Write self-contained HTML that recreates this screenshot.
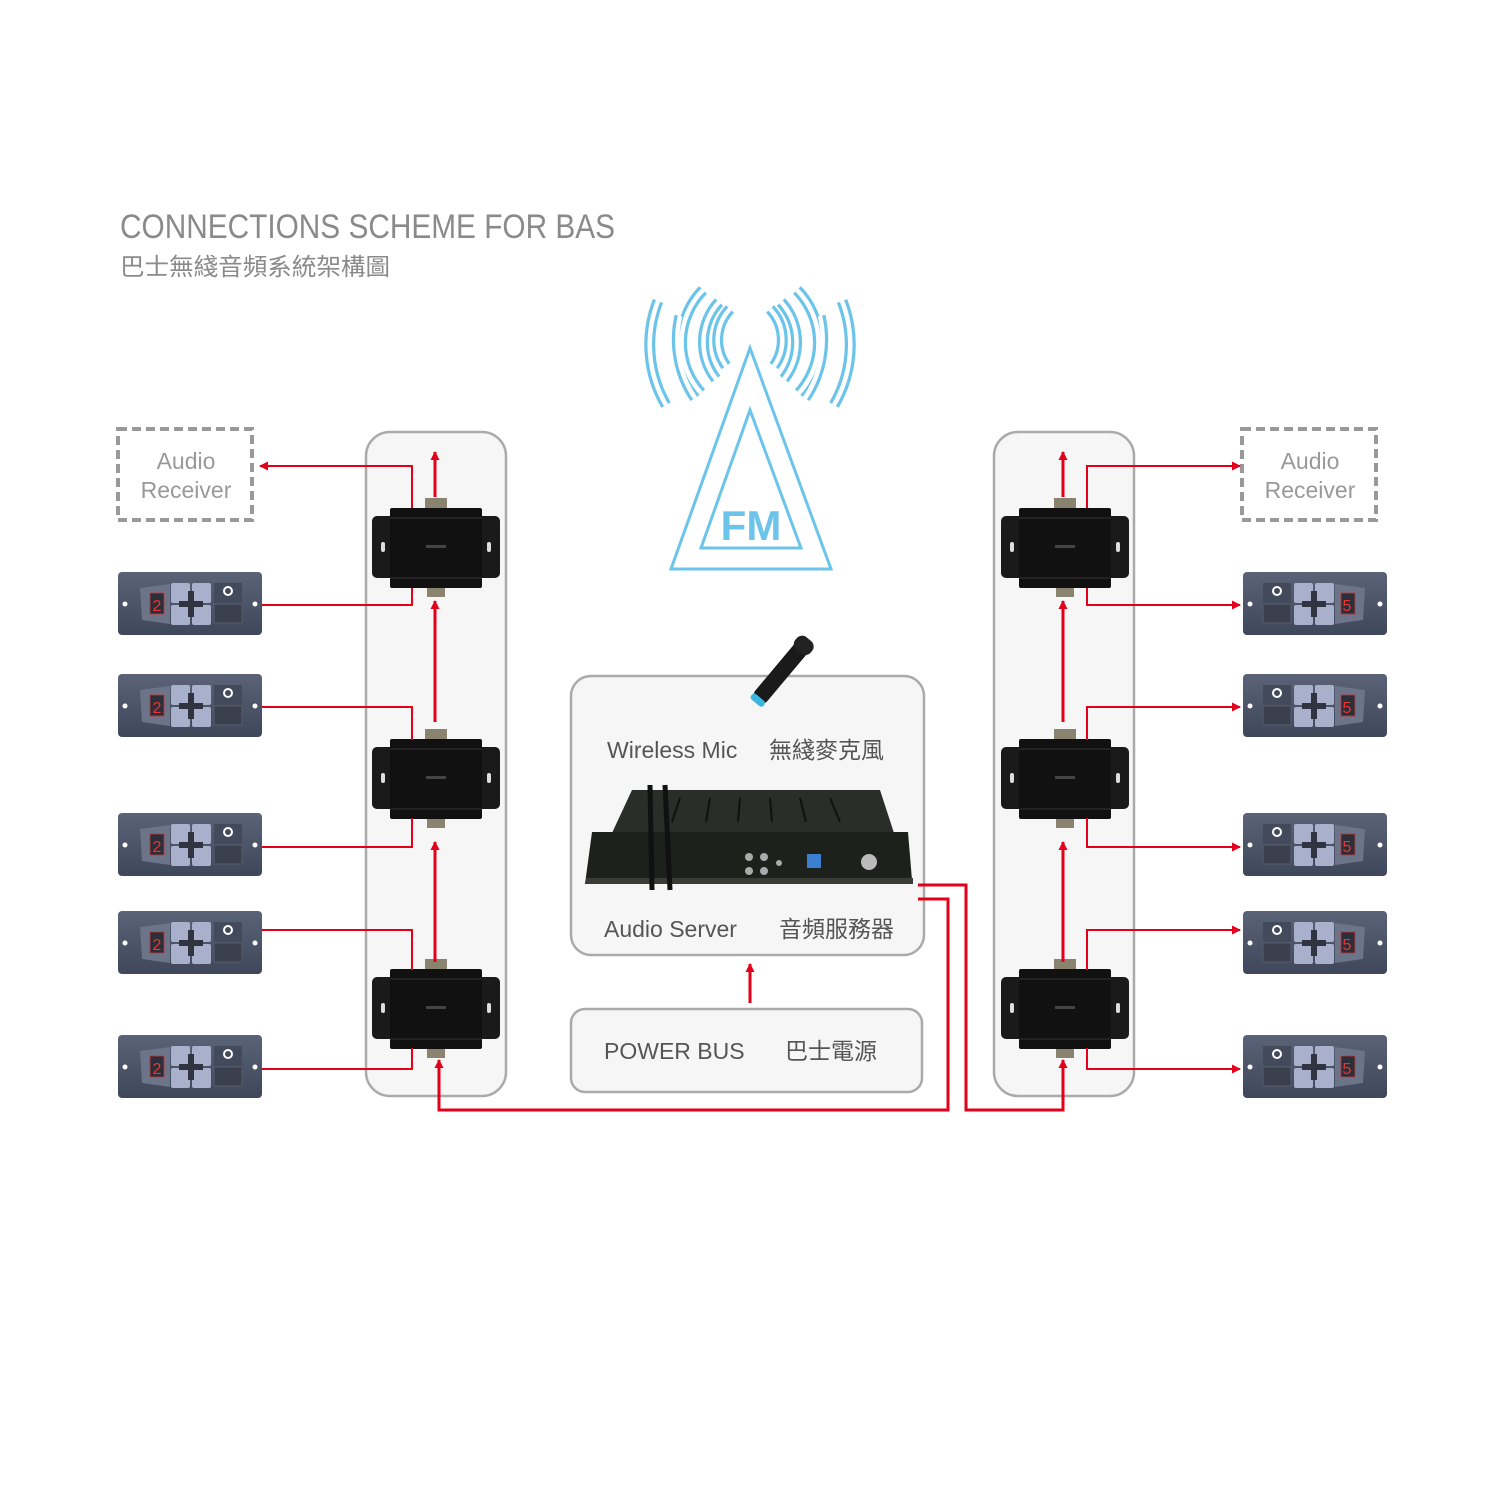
<!DOCTYPE html>
<html><head><meta charset="utf-8"><style>
html,body{margin:0;padding:0;background:#fff;}
svg{display:block;}
text{font-family:"Liberation Sans","Noto Sans CJK TC",sans-serif;}
</style></head><body>
<svg width="1500" height="1499" viewBox="0 0 1500 1499" xmlns="http://www.w3.org/2000/svg">
<defs>
<marker id="ar" markerWidth="9" markerHeight="9" refX="8" refY="4.5" orient="auto" markerUnits="userSpaceOnUse">
<path d="M0,0 L9,4.5 L0,9 z" fill="#e3001b"/>
</marker>
<linearGradient id="pg" x1="0" y1="0" x2="0" y2="1"><stop offset="0" stop-color="#5a6377"/><stop offset="1" stop-color="#3f475a"/></linearGradient>
<g id="ctl">
<rect x="0" y="0" width="144" height="63" rx="4" fill="url(#pg)"/>
<circle cx="7" cy="32" r="2.5" fill="#fff"/><circle cx="137" cy="32" r="2.5" fill="#fff"/>
<path d="M22,16 L52,12 L52,52 L24,48 Z" fill="#6b7488"/>
<rect x="32" y="21" width="14" height="21" fill="#2a2f3a" stroke="#c33" stroke-width="0.8"/>
<rect x="53" y="11" width="19" height="20" rx="2" fill="#a9b0cc"/>
<rect x="74" y="11" width="19" height="20" rx="2" fill="#a9b0cc"/>
<rect x="53" y="33" width="19" height="20" rx="2" fill="#a9b0cc"/>
<rect x="74" y="33" width="19" height="20" rx="2" fill="#a9b0cc"/>
<rect x="70" y="19" width="6" height="26" fill="#2f3440"/><rect x="61" y="29" width="24" height="6" fill="#2f3440"/>
<rect x="96" y="11" width="28" height="20" fill="#434a5b"/>
<circle cx="110" cy="19" r="4" fill="none" stroke="#fff" stroke-width="2"/>
<rect x="96" y="32" width="28" height="19" fill="#3a404e" stroke="#555c6c" stroke-width="1"/>
</g>
<g id="jb">
<rect x="-64" y="-32" width="128" height="62" rx="5" fill="#1a1a1a"/>
<rect x="-46" y="-40" width="92" height="80" rx="2" fill="#111"/>
<line x1="-46" y1="-30" x2="46" y2="-30" stroke="#333" stroke-width="1"/>
<line x1="-46" y1="30" x2="46" y2="30" stroke="#333" stroke-width="1"/>
<rect x="-11" y="-50" width="22" height="10" fill="#8a8370"/>
<rect x="-9" y="40" width="18" height="9" fill="#8a8370"/>
<rect x="-55" y="-6" width="4" height="10" rx="2" fill="#ddd"/>
<rect x="51" y="-6" width="4" height="10" rx="2" fill="#ddd"/>
<rect x="-10" y="-3" width="20" height="3" fill="#444"/>
</g>
</defs>

<text x="120" y="238" font-size="34" fill="#8a8a8a" textLength="495" lengthAdjust="spacingAndGlyphs">CONNECTIONS SCHEME FOR BAS</text>
<text x="120" y="275" font-size="24" fill="#8a8a8a" textLength="270" lengthAdjust="spacingAndGlyphs">巴士無綫音頻系統架構圖</text>

<!-- FM antenna -->
<g fill="none" stroke="#6cc4ea">
<polygon points="750,348 671,569 831,569" stroke-width="3"/>
<polygon points="750,410 701,548 801,548" stroke-width="3"/>
</g>
<text x="751" y="540" font-size="42" font-weight="bold" fill="#6cc4ea" text-anchor="middle">FM</text>
<g fill="none">
<g stroke="#6cc4ea" stroke-width="11">
<path d="M730,309 A45,45 0 0 0 726,366"/><path d="M719,302 A60,60 0 0 0 716,379"/><path d="M703,290 A75,75 0 0 0 701,393"/><path d="M680,316 A105,105 0 0 0 695,398" /><path d="M658,301 A120,120 0 0 0 666,405"/>
<path d="M770,309 A45,45 0 0 1 774,366"/><path d="M781,302 A60,60 0 0 1 784,379"/><path d="M797,290 A75,75 0 0 1 799,393"/><path d="M820,316 A105,105 0 0 1 805,398"/><path d="M842,301 A120,120 0 0 1 834,405"/>
</g>
<g stroke="#fff" stroke-width="4.5">
<path d="M730,309 A45,45 0 0 0 726,366"/><path d="M719,302 A60,60 0 0 0 716,379"/><path d="M703,290 A75,75 0 0 0 701,393"/><path d="M680,316 A105,105 0 0 0 695,398" /><path d="M658,301 A120,120 0 0 0 666,405"/>
<path d="M770,309 A45,45 0 0 1 774,366"/><path d="M781,302 A60,60 0 0 1 784,379"/><path d="M797,290 A75,75 0 0 1 799,393"/><path d="M820,316 A105,105 0 0 1 805,398"/><path d="M842,301 A120,120 0 0 1 834,405"/>
</g>
</g>

<!-- columns -->
<rect x="366" y="432" width="140" height="664" rx="24" fill="#f6f6f6" stroke="#aaa" stroke-width="2.5"/>
<rect x="994" y="432" width="140" height="664" rx="24" fill="#f6f6f6" stroke="#aaa" stroke-width="2.5"/>

<!-- server boxes -->
<rect x="571" y="676" width="353" height="279" rx="20" fill="#f6f6f6" stroke="#aaa" stroke-width="2.5"/>
<rect x="571" y="1009" width="351" height="83" rx="14" fill="#f6f6f6" stroke="#aaa" stroke-width="2.5"/>
<text x="607" y="758" font-size="23" fill="#555">Wireless Mic</text>
<text x="769" y="758" font-size="23" fill="#555">無綫麥克風</text>
<text x="604" y="937" font-size="23" fill="#555">Audio Server</text>
<text x="779" y="937" font-size="23" fill="#555">音頻服務器</text>
<text x="604" y="1059" font-size="23" fill="#555">POWER BUS</text>
<text x="785" y="1059" font-size="23" fill="#555">巴士電源</text>

<!-- mic -->
<g transform="translate(778,676) rotate(40)">
<rect x="-8" y="-40" width="16" height="72" rx="6" fill="#1a1a1a"/>
<rect x="-10" y="-48" width="20" height="16" rx="7" fill="#222"/>
<rect x="-8" y="28" width="16" height="7" rx="3" fill="#3bb4e0"/>
</g>
<!-- server device -->
<polygon points="632,790 880,790 908,876 592,876" fill="#2a2d28"/>
<polygon points="592,832 908,832 912,880 585,884" fill="#1e201c"/>
<rect x="586" y="878" width="327" height="6" fill="#3a3c38"/>
<g stroke="#111" stroke-width="2">
<line x1="680" y1="798" x2="672" y2="822"/><line x1="710" y1="798" x2="706" y2="822"/><line x1="740" y1="798" x2="738" y2="822"/><line x1="770" y1="798" x2="772" y2="822"/><line x1="800" y1="798" x2="806" y2="822"/><line x1="830" y1="798" x2="840" y2="822"/>
</g>
<rect x="807" y="854" width="14" height="14" fill="#3a7fd0"/>
<circle cx="869" cy="862" r="8" fill="#bbb"/>
<circle cx="749" cy="857" r="4" fill="#aaa"/><circle cx="764" cy="857" r="4" fill="#aaa"/><circle cx="749" cy="871" r="4" fill="#aaa"/><circle cx="764" cy="871" r="4" fill="#aaa"/><circle cx="779" cy="863" r="3" fill="#aaa"/>
<line x1="650" y1="785" x2="652" y2="890" stroke="#111" stroke-width="5"/>
<line x1="665" y1="785" x2="670" y2="890" stroke="#111" stroke-width="5"/>

<!-- audio receivers -->
<rect x="118" y="429" width="134" height="91" fill="none" stroke="#999" stroke-width="4" stroke-dasharray="9,5"/>
<text x="186" y="469" font-size="23" fill="#999" text-anchor="middle">Audio</text>
<text x="186" y="498" font-size="23" fill="#999" text-anchor="middle">Receiver</text>
<rect x="1242" y="429" width="134" height="91" fill="none" stroke="#999" stroke-width="4" stroke-dasharray="9,5"/>
<text x="1310" y="469" font-size="23" fill="#999" text-anchor="middle">Audio</text>
<text x="1310" y="498" font-size="23" fill="#999" text-anchor="middle">Receiver</text>

<!-- left controls -->
<use href="#ctl" x="118" y="572"/><use href="#ctl" x="118" y="674"/><use href="#ctl" x="118" y="813"/><use href="#ctl" x="118" y="911"/><use href="#ctl" x="118" y="1035"/>
<g fill="#e33" font-size="16" text-anchor="middle"><text x="157" y="611">2</text><text x="157" y="713">2</text><text x="157" y="852">2</text><text x="157" y="950">2</text><text x="157" y="1074">2</text></g>
<!-- right controls (mirrored) -->
<g transform="translate(2629,0) scale(-1,1)">
<use href="#ctl" x="1242" y="572"/><use href="#ctl" x="1242" y="674"/><use href="#ctl" x="1242" y="813"/><use href="#ctl" x="1242" y="911"/><use href="#ctl" x="1242" y="1035"/>
</g>
<g fill="#e33" font-size="16" text-anchor="middle"><text x="1347" y="611">5</text><text x="1347" y="713">5</text><text x="1347" y="852">5</text><text x="1347" y="950">5</text><text x="1347" y="1074">5</text></g>

<!-- junction boxes -->
<use href="#jb" x="436" y="548"/><use href="#jb" x="436" y="779"/><use href="#jb" x="436" y="1009"/>
<use href="#jb" x="1065" y="548"/><use href="#jb" x="1065" y="779"/><use href="#jb" x="1065" y="1009"/>

<!-- red lines -->
<g fill="none" stroke="#e3001b" stroke-width="2">
<path d="M412,508 V466 H260" marker-end="url(#ar)"/>
<path d="M262,605 H412 V588"/>
<path d="M262,707 H412 V740"/>
<path d="M262,847 H412 V818"/>
<path d="M262,930 H412 V970"/>
<path d="M262,1069 H412 V1048"/>
<path d="M1087,508 V466 H1240" marker-end="url(#ar)"/>
<path d="M1087,588 V605 H1240" marker-end="url(#ar)"/>
<path d="M1087,740 V707 H1240" marker-end="url(#ar)"/>
<path d="M1087,818 V847 H1240" marker-end="url(#ar)"/>
<path d="M1087,970 V930 H1240" marker-end="url(#ar)"/>
<path d="M1087,1048 V1069 H1240" marker-end="url(#ar)"/>
</g>
<g fill="none" stroke="#e3001b" stroke-width="3">
<path d="M435,497 V452" marker-end="url(#ar)"/>
<path d="M435,722 V601" marker-end="url(#ar)"/>
<path d="M435,962 V842" marker-end="url(#ar)"/>
<path d="M1063,497 V452" marker-end="url(#ar)"/>
<path d="M1063,722 V601" marker-end="url(#ar)"/>
<path d="M1063,962 V842" marker-end="url(#ar)"/>
<path d="M750,1003 V964" marker-end="url(#ar)"/>
<path d="M918,899 H948 V1110 H439 V1060" marker-end="url(#ar)"/>
<path d="M918,885 H966 V1110 H1063 V1060" marker-end="url(#ar)"/>
</g>
</svg>
</body></html>
